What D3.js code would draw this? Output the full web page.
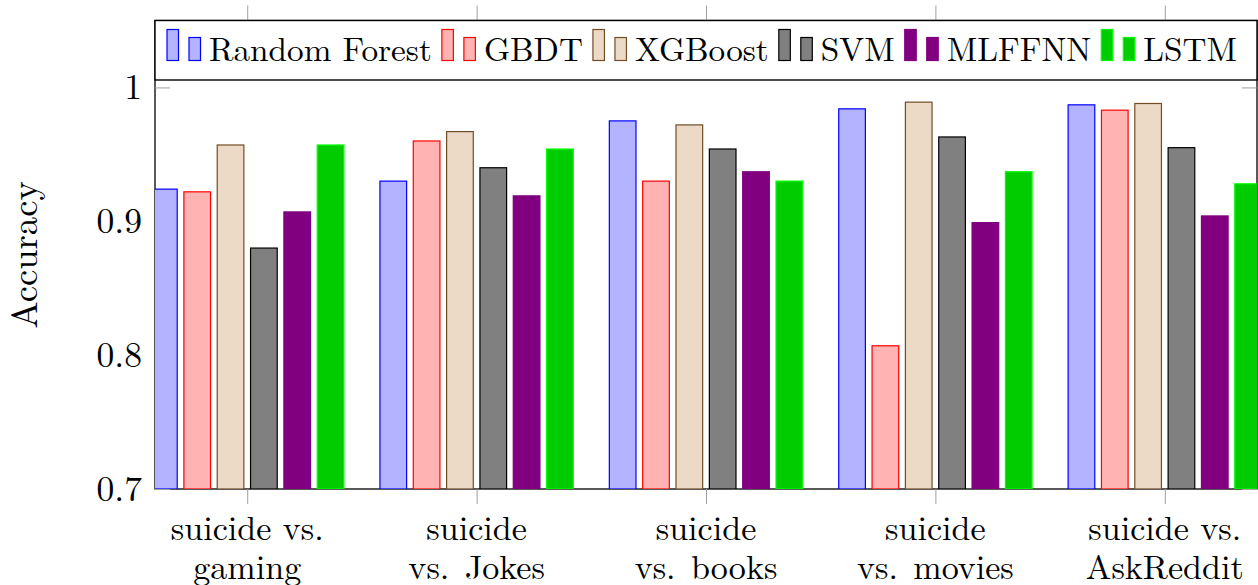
<!DOCTYPE html>
<html>
<head>
<meta charset="utf-8">
<script src="https://cdn.jsdelivr.net/npm/d3@7/dist/d3.min.js"></script>
<style>
  html, body { margin: 0; padding: 0; background: #fff; }
  svg { display: block; }
</style>
</head>
<body>
<svg id="chart" width="1258" height="585"></svg>
<script>
// Category labels (two lines each)
const categories = ["gaming", "Jokes", "books", "movies", "AskReddit"];
const categoryLines = [
  ["suicide vs.", "gaming"],
  ["suicide", "vs. Jokes"],
  ["suicide", "vs. books"],
  ["suicide", "vs. movies"],
  ["suicide vs.", "AskReddit"]
];

// Model names
const models = ["Random Forest", "GBDT", "XGBoost", "SVM", "MLFFNN", "LSTM"];

// Accuracy per model, one value per category
const randomForest = [0.924, 0.930, 0.975, 0.984, 0.987];
const gbdt         = [0.922, 0.960, 0.930, 0.807, 0.983];
const xgboost      = [0.957, 0.967, 0.972, 0.989, 0.988];
const svm          = [0.880, 0.940, 0.954, 0.963, 0.955];
const mlffnn       = [0.907, 0.919, 0.937, 0.899, 0.904];
const lstm         = [0.957, 0.954, 0.930, 0.937, 0.928];
const seriesValues = [randomForest, gbdt, xgboost, svm, mlffnn, lstm];

// Y axis ticks
const yTicks = [0.7, 0.8, 0.9, 1];
const yTickLabels = ["0.7", "0.8", "0.9", "1"];

// Styles
const strokeColors = ["#0000ff", "#ff0000", "#734d26", "#000000", "#800080", "#00ff00"];
const fillColors   = ["#b3b3ff", "#ffb3b3", "#ecd9c6", "#808080", "#800080", "#00cc00"];

// Pick the first installed serif face
function hasFont(name) {
  const ctx = document.createElement("canvas").getContext("2d");
  const s = "Random Forest 0.9 mwiIlWQ";
  return ["monospace", "sans-serif"].some(fb => {
    ctx.font = `40px ${fb}`;
    const a = ctx.measureText(s).width;
    ctx.font = `40px "${name}", ${fb}`;
    return ctx.measureText(s).width !== a;
  });
}
const serifCandidates = ["Latin Modern Roman", "CMU Serif", "Liberation Serif", "DejaVu Serif",
                         "Noto Serif", "Times New Roman", "FreeSerif", "Tinos"];
const fontFace = serifCandidates.find(hasFont) || "serif";
const fontFamily = `"${fontFace}", serif`;

// Size the face so the legend label spans the same run as the typeset original
const fontSize = (() => {
  const ctx = document.createElement("canvas").getContext("2d");
  ctx.font = `34px ${fontFamily}`;
  const w = ctx.measureText("Random Forest").width;
  return Math.max(26, Math.min(36, 34 * 223 / w));
})();
const tickFont = fontSize * 1.07;
const titleFont = fontSize * 1.1;
const catFont = fontSize * 1.025;

const svg = d3.select("#chart");
svg.style("font-family", fontFamily);
const plotLeft = 155, plotRight = 1257, plotTop = 20.5, plotBottom = 489;
const tickColor = "#a0a0a0";

const y = d3.scaleLinear().domain([0.7, 1.05]).range([plotBottom, plotTop]);
const x = d3.scalePoint().domain(categories).range([plotLeft, plotRight]).padding(0.402);
const xInner = d3.scaleBand().domain(models).range([-100, 100]).paddingInner(0.2).paddingOuter(0.1);

svg.append("defs").append("clipPath").attr("id", "plotClip")
  .append("rect").attr("x", plotLeft).attr("y", plotTop)
  .attr("width", plotRight - plotLeft).attr("height", plotBottom - plotTop);

// Axis frame
svg.append("rect")
  .attr("x", plotLeft).attr("y", plotTop)
  .attr("width", plotRight - plotLeft).attr("height", plotBottom - plotTop)
  .attr("fill", "none").attr("stroke", "#000").attr("stroke-width", 1.3);

// Y ticks, inward on both sides
const yAxisLeft = d3.axisLeft(y).tickValues(yTicks).tickSize(-15).tickFormat("");
const yAxisRight = d3.axisRight(y).tickValues(yTicks).tickSize(-15).tickFormat("");
[svg.append("g").attr("transform", `translate(${plotLeft},0)`).call(yAxisLeft),
 svg.append("g").attr("transform", `translate(${plotRight},0)`).call(yAxisRight)].forEach(g => {
  g.select(".domain").remove();
  g.selectAll(".tick line").attr("stroke", tickColor).attr("stroke-width", 1);
});

// X ticks, outward on top and bottom
const xAxisBottom = d3.axisBottom(x).tickSize(15).tickFormat("");
const xAxisTop = d3.axisTop(x).tickSize(15).tickFormat("");
[svg.append("g").attr("transform", `translate(0,${plotBottom})`).call(xAxisBottom),
 svg.append("g").attr("transform", `translate(0,${plotTop})`).call(xAxisTop)].forEach(g => {
  g.select(".domain").remove();
  g.selectAll(".tick line").attr("stroke", tickColor).attr("stroke-width", 1);
});

// Y tick labels
svg.append("g").selectAll("text").data(yTicks).join("text")
  .attr("x", 142).attr("y", d => y(d) + tickFont * 0.33)
  .attr("text-anchor", "end")
  .attr("font-size", tickFont)
  .text((d, i) => yTickLabels[i]);

// Y axis title
svg.append("text")
  .attr("transform", "translate(37,255) rotate(-90)")
  .attr("text-anchor", "middle")
  .attr("font-size", titleFont)
  .text("Accuracy");

// X tick labels
const xl = svg.append("g").selectAll("g").data(categories).join("g")
  .attr("transform", d => `translate(${x(d)},0)`);
xl.append("text").attr("y", 540).attr("text-anchor", "middle")
  .attr("font-size", catFont)
  .text((d, i) => categoryLines[i][0]);
xl.append("text").attr("y", 579).attr("text-anchor", "middle")
  .attr("font-size", catFont).attr("word-spacing", 4)
  .text((d, i) => categoryLines[i][1]);

// Bars
const bars = svg.append("g").attr("clip-path", "url(#plotClip)");
models.forEach((m, si) => {
  bars.append("g").selectAll("rect").data(seriesValues[si]).join("rect")
    .attr("x", (d, ci) => x(categories[ci]) + xInner(m))
    .attr("width", xInner.bandwidth())
    .attr("y", d => y(d))
    .attr("height", d => y(0.7) - y(d))
    .attr("fill", fillColors[si])
    .attr("stroke", strokeColors[si])
    .attr("stroke-width", 1.2);
});

// Legend
const legend = svg.append("g");
legend.append("rect")
  .attr("x", plotLeft).attr("y", plotTop)
  .attr("width", plotRight - plotLeft).attr("height", 80 - plotTop)
  .attr("fill", "#fff").attr("stroke", "#000").attr("stroke-width", 1.4);
let lx = 167;
const base = 60.5;
models.forEach((m, si) => {
  legend.append("rect").attr("x", lx).attr("y", 29.5).attr("width", 11.5).attr("height", base - 29.5)
    .attr("fill", fillColors[si]).attr("stroke", strokeColors[si]).attr("stroke-width", 1.2);
  legend.append("rect").attr("x", lx + 22).attr("y", 37.5).attr("width", 11.5).attr("height", base - 37.5)
    .attr("fill", fillColors[si]).attr("stroke", strokeColors[si]).attr("stroke-width", 1.2);
  const t = legend.append("text").attr("x", lx + 42).attr("y", base)
    .attr("font-size", fontSize).text(m);
  lx = lx + 42 + t.node().getComputedTextLength() + 10;
});
</script>
</body>
</html>
